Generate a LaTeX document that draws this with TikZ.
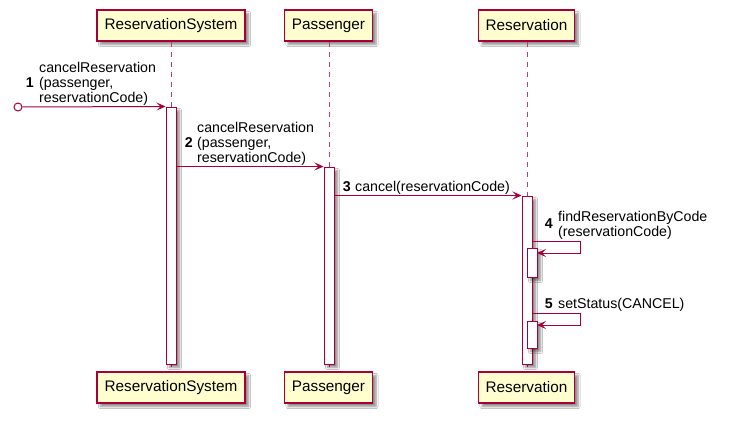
\documentclass[tikz,border=0pt]{standalone}
\usepackage{fontspec}
\setmainfont{Liberation Sans}
\usetikzlibrary{arrows.meta,shadows.blur}
\definecolor{umlred}{HTML}{A80036}
\definecolor{umlfill}{HTML}{FEFECE}
\tikzset{
  part/.style={draw=umlred, line width=1.5pt, fill=umlfill, minimum height=31pt, inner sep=0pt,
    font=\fontsize{15.3}{18}\selectfont,
    blur shadow={shadow xshift=3.5pt, shadow yshift=-3.5pt, shadow blur steps=6, shadow opacity=45}},
  actbar/.style={draw=umlred, line width=1pt, fill=white, minimum width=10pt, inner sep=0pt,
    blur shadow={shadow xshift=3.5pt, shadow yshift=-3.5pt, shadow blur steps=6, shadow opacity=45}},
  life/.style={draw=umlred!75, line width=1pt, dash pattern=on 5pt off 5pt},
  msg/.style={draw=umlred, line width=1pt, -{Stealth[length=9pt,width=8pt,inset=4pt]}},
  lbl/.style={font=\fontsize{14.2}{15}\selectfont, align=left, inner sep=0pt},
  num/.style={font=\fontsize{14.2}{15}\selectfont\bfseries, inner sep=0pt},
}
\begin{document}
\begin{tikzpicture}[x=1pt,y=-1pt]
\useasboundingbox[fill=white] (0,0) rectangle (731,426);
% participants
\node[part, minimum width=148pt] (rsT) at (171,25.5) {ReservationSystem};
\node[part, minimum width=88pt] (pT) at (328.5,25.5) {Passenger};
\node[part, minimum width=96pt] (rT) at (526.5,25.5) {Reservation};
\node[part, minimum width=148pt] (rsB) at (171,387.5) {ReservationSystem};
\node[part, minimum width=88pt] (pB) at (328.5,387.5) {Passenger};
\node[part, minimum width=96pt] (rB) at (526.5,387.5) {Reservation};
% lifelines
\draw[life] (rsT.south -| 171,0) -- (rsB.north -| 171,0);
\draw[life] (pT.south -| 329,0) -- (pB.north -| 329,0);
\draw[life] (rT.south -| 527,0) -- (rB.north -| 527,0);
% activation bars
\node[actbar, minimum height=257pt] (a1) at (171,235.5) {};
\node[actbar, minimum height=197pt] (a2) at (329,265.5) {};
\node[actbar, minimum height=168pt] (a3) at (527,280) {};
\node[actbar, minimum height=29pt] (a4) at (532,262.5) {};
\node[actbar, minimum height=27pt] (a5) at (532,334.5) {};
% message 1
\node[circle, draw=umlred, line width=1pt, fill=white, minimum size=8pt, inner sep=0pt] (src) at (18,107) {};
\draw[msg] (src) -- (a1.north west);
\node[num, anchor=base east] (n1) at (34,87.5) {1};
\node[lbl, anchor=north west] (t1) at (39,62.5) {cancelReservation\\(passenger,\\reservationCode)};
% message 2
\draw[msg] (a1.east |- a2.north west) -- (a2.north west);
\node[num, anchor=base east] (n2) at (193,147.5) {2};
\node[lbl, anchor=north west] (t2) at (197,122.5) {cancelReservation\\(passenger,\\reservationCode)};
% message 3
\draw[msg] (a2.east |- a3.north west) -- (a3.north west);
\node[num, anchor=base east] (n3) at (351,191.5) {3};
\node[lbl, anchor=base west] (t3) at (355,191.5) {cancel(reservationCode)};
% message 4
\coordinate (l4) at (532,241);
\coordinate (r4) at (537,253);
\draw[msg] (l4) -- ++(48,0) |- (r4);
\node[num, anchor=base east] (n4) at (553,228.5) {4};
\node[lbl, anchor=north west] (t4) at (558,211.5) {findReservationByCode\\(reservationCode)};
% message 5
\coordinate (l5) at (532,313);
\coordinate (r5) at (537,325);
\draw[msg] (l5) -- ++(48,0) |- (r5);
\node[num, anchor=base east] (n5) at (553,308.5) {5};
\node[lbl, anchor=base west] (t5) at (558,308.5) {setStatus(CANCEL)};
\end{tikzpicture}
\end{document}
